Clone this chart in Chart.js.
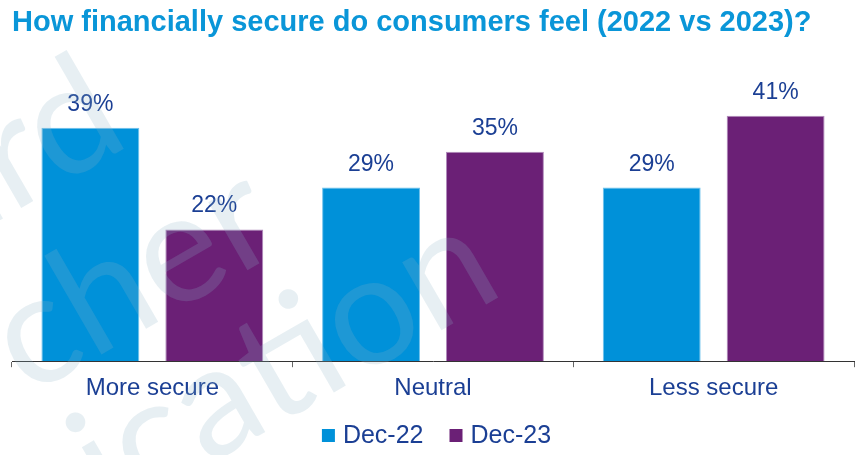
<!DOCTYPE html>
<html>
<head>
<meta charset="utf-8">
<script src="https://cdn.jsdelivr.net/npm/chart.js@4.4.0/dist/chart.umd.min.js"></script>
<style>
  html, body { margin: 0; padding: 0; background: #fff; }
  #wrap { width: 859px; height: 455px; position: relative; }
</style>
</head>
<body>
<div id="wrap"><canvas id="chart"></canvas></div>
<script>
var categories = ['More secure', 'Neutral', 'Less secure'];
var dec22 = [39, 29, 29];
var dec23 = [22, 35, 41];
var seriesNames = ['Dec-22', 'Dec-23'];
var seriesColors = ['#0091D9', '#6B2076'];
var seriesEdges = ['#6EC1EC', '#B08ABB'];
var titleText = 'How financially secure do consumers feel (2022 vs 2023)?';
var watermarkWords = ['ard', 'cher', 'ication'];

var FONT = '"Liberation Sans", Arial, sans-serif';
var TEXT_BLUE = '#1B3F94';

// percentage labels sitting above each bar
var valueLabels = {
  id: 'valueLabels',
  afterDatasetsDraw: function(chart) {
    var ctx = chart.ctx;
    ctx.save();
    ctx.font = '23px ' + FONT;
    ctx.fillStyle = TEXT_BLUE;
    ctx.textAlign = 'center';
    ctx.textBaseline = 'alphabetic';
    chart.data.datasets.forEach(function(ds, i) {
      chart.getDatasetMeta(i).data.forEach(function(bar, j) {
        ctx.fillText(ds.data[j] + '%', bar.x, bar.y - 17);
      });
    });
    ctx.restore();
  }
};

// faint tilted lettering across the left half
var watermark = {
  id: 'watermark',
  afterDraw: function(chart) {
    var ctx = chart.ctx;
    var starts = [[-55, 252], [28, 397], [111, 521]];
    ctx.save();
    ctx.font = '155px Lato, "DejaVu Sans", sans-serif';
    ctx.fillStyle = 'rgba(140, 180, 200, 0.21)';
    ctx.textAlign = 'left';
    ctx.textBaseline = 'alphabetic';
    watermarkWords.forEach(function(word, i) {
      ctx.save();
      ctx.translate(starts[i][0], starts[i][1]);
      ctx.rotate(-Math.PI / 6);
      ctx.fillText(word, 0, 0);
      ctx.restore();
    });
    ctx.restore();
  }
};

// legend under the axis labels: small square, then the series name
var bottomLegend = {
  id: 'bottomLegend',
  afterDraw: function(chart) {
    var ctx = chart.ctx;
    var box = 13, gap = 8, spacing = 26, baseline = 443;
    ctx.save();
    ctx.font = '25px ' + FONT;
    var widths = seriesNames.map(function(name) { return ctx.measureText(name).width; });
    var total = widths.reduce(function(a, w) { return a + box + gap + w; }, 0) + spacing * (seriesNames.length - 1);
    var x = chart.width / 2 + 7 - total / 2;
    ctx.textBaseline = 'alphabetic';
    ctx.textAlign = 'left';
    seriesNames.forEach(function(name, i) {
      ctx.fillStyle = seriesColors[i];
      ctx.fillRect(x, baseline - 14, box, box);
      ctx.fillStyle = TEXT_BLUE;
      ctx.fillText(name, x + box + gap, baseline);
      x += box + gap + widths[i] + spacing;
    });
    ctx.restore();
  }
};

new Chart(document.getElementById('chart'), {
  type: 'bar',
  data: {
    labels: categories,
    datasets: [{
      label: seriesNames[0],
      data: dec22,
      backgroundColor: seriesColors[0],
      borderColor: seriesEdges[0],
      borderWidth: 1,
      categoryPercentage: 0.883,
      barPercentage: 0.79
    }, {
      label: seriesNames[1],
      data: dec23,
      backgroundColor: seriesColors[1],
      borderColor: seriesEdges[1],
      borderWidth: 1,
      categoryPercentage: 0.883,
      barPercentage: 0.79
    }]
  },
  options: {
    responsive: true,
    maintainAspectRatio: false,
    animation: false,
    layout: { padding: { left: 12, right: 5, top: 0, bottom: 45 } },
    scales: {
      x: {
        grid: { offset: true, drawOnChartArea: false, tickLength: 6, color: '#666666' },
        border: { display: true, color: '#333333', width: 1 },
        ticks: { color: TEXT_BLUE, font: { family: FONT, size: 24 }, padding: 7 }
      },
      y: {
        display: false,
        min: 0,
        max: 45
      }
    },
    plugins: {
      legend: { display: false },
      tooltip: { enabled: false },
      title: {
        display: true,
        text: titleText,
        align: 'start',
        color: '#0A96D8',
        font: { family: FONT, size: 29, weight: 'bold' },
        padding: { top: 6, bottom: 51 }
      }
    }
  },
  plugins: [valueLabels, watermark, bottomLegend]
});
</script>
</body>
</html>
